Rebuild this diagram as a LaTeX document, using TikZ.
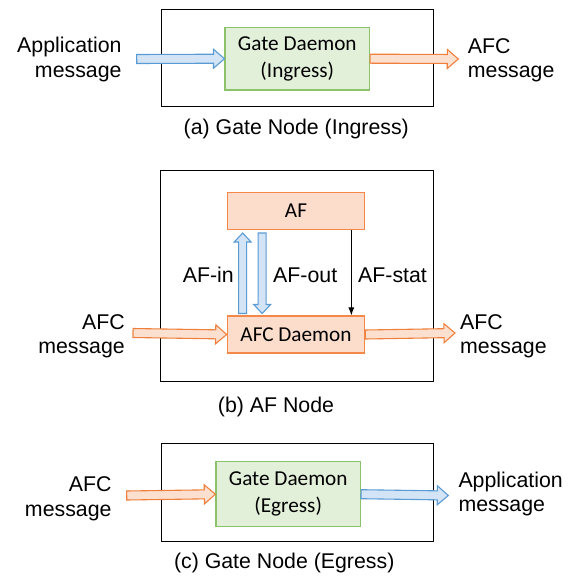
\documentclass[tikz,border=0pt]{standalone}
\usepackage{fontspec}
\setmainfont{Liberation Sans}
\newfontfamily\boxfont{Carlito}
\usepackage{tikz}
\usetikzlibrary{calc,arrows.meta}
\tikzset{>={Latex[length=8bp,width=6bp]}}
\definecolor{gatefill}{HTML}{E2F0D9}
\definecolor{gatedraw}{HTML}{8CC36A}
\definecolor{affill}{HTML}{FCDDCB}
\definecolor{afdraw}{HTML}{F4874A}
\definecolor{bluefill}{HTML}{D2E4F5}
\definecolor{bluedraw}{HTML}{5B9BD5}
\definecolor{orangefill}{HTML}{FBE0CF}
\definecolor{orangedraw}{HTML}{F07F3C}
\tikzstyle{frame}=[draw=black,line width=1.3,inner sep=0]
\tikzstyle{gatebox}=[draw=gatedraw,fill=gatefill,line width=1.2,align=center,
  minimum width=145,minimum height=63,font=\boxfont\fontsize{21.3}{26.7}\selectfont]
\tikzstyle{afbox}=[draw=afdraw,fill=affill,line width=1.2,
  minimum width=138,minimum height=37,font=\boxfont\fontsize{21.3}{26}\selectfont]
\tikzstyle{lbl}=[inner sep=0,font=\fontsize{21.4}{24.5}\selectfont]
\tikzstyle{bluearrow}=[draw=bluedraw,fill=bluefill,line width=1.1]
\tikzstyle{orangearrow}=[draw=orangedraw,fill=orangefill,line width=1.1]
\def\shaftw{4.5bp}
\def\headw{9.5bp}
\def\headl{11bp}
% block arrow from #2 to #3
\newcommand{\fatarrow}[3]{%
  \coordinate (fa) at ($(#3)!\headl!(#2)$);
  \draw[#1] ($(#2)!\shaftw!90:(#3)$) -- ($(fa)!\shaftw!90:(#3)$)
    -- ($(fa)!\headw!90:(#3)$) -- (#3) -- ($(fa)!\headw!-90:(#3)$)
    -- ($(fa)!\shaftw!-90:(#3)$) -- ($(#2)!\shaftw!-90:(#3)$) -- cycle;
}

\begin{document}
\begin{tikzpicture}[x=1bp,y=-1bp]
  \useasboundingbox (0,0) rectangle (570,576);

  % (a) GATE NODE, INGRESS
  \node[frame,minimum width=273,minimum height=98] (nodeA) at (297.3,58) {};
  \node[gatebox] (gateIn) at (297.3,58.7) {Gate Daemon\\(Ingress)};
  \node[lbl,align=right,anchor=east] (appInA) at (121.7,59.5) {Application\\message};
  \node[lbl,align=left,anchor=west] (afcOutA) at (467.7,60.3) {AFC\\message};
  \coordinate (tailA) at (136.7,59);
  \coordinate (tipA) at (458.3,59);
  \fatarrow{bluearrow}{tailA}{gateIn.west}
  \fatarrow{orangearrow}{gateIn.east}{tipA}
  \node[lbl,anchor=base] (capA) at (296.3,135) {(a) Gate Node (Ingress)};

  % (b) AF NODE
  \node[frame,minimum width=274,minimum height=212] (nodeB) at (297,276) {};
  \node[afbox] (af) at (296,211) {AF};
  \node[afbox] (afc) at (296,334.5) {AFC Daemon};
  \def\shaftw{4bp}
  \def\headw{8.5bp}
  \def\headl{9bp}
  \coordinate (inTail) at ($(afc.north west)+(16,-2)$);
  \coordinate (inTip) at ($(af.south west)+(16,3)$);
  \coordinate (outTail) at ($(af.south west)+(35.5,3)$);
  \coordinate (outTip) at ($(afc.north west)+(35.5,-2)$);
  \fatarrow{bluearrow}{inTail}{inTip}
  \fatarrow{bluearrow}{outTail}{outTip}
  \draw[->,line width=1] ($(af.south east)+(-14,0)$) -- ($(afc.north east)+(-14,0)$);
  \node[lbl,anchor=base east] (afIn) at (234,282.7) {AF-in};
  \node[lbl,anchor=base west] (afOut) at (273,282.7) {AF-out};
  \node[lbl,anchor=base west] (afStat) at (358,282.7) {AF-stat};
  \def\shaftw{4.5bp}
  \def\headw{9.5bp}
  \def\headl{11bp}
  \node[lbl,align=right,anchor=east] (afcInB) at (125,336) {AFC\\message};
  \node[lbl,align=left,anchor=west] (afcOutB) at (460,336) {AFC\\message};
  \coordinate (tailB) at (133,333);
  \coordinate (tipB) at (455,333);
  \fatarrow{orangearrow}{tailB}{afc.west}
  \fatarrow{orangearrow}{afc.east}{tipB}
  \node[lbl,anchor=base] (capB) at (276,412) {(b) AF Node};

  % (c) GATE NODE, EGRESS
  \node[frame,minimum width=273,minimum height=98] (nodeC) at (297.3,492.5) {};
  \node[gatebox,minimum height=65] (gateOut) at (288.2,494.2) {Gate Daemon\\(Egress)};
  \node[lbl,align=right,anchor=east] (afcInC) at (111.7,498.8) {AFC\\message};
  \node[lbl,align=left,anchor=west] (appOutC) at (458.3,493.8) {Application\\message};
  \coordinate (tailC) at (126.7,495.5);
  \coordinate (tipC) at (448.3,495.5);
  \fatarrow{orangearrow}{tailC}{gateOut.west}
  \fatarrow{bluearrow}{gateOut.east}{tipC}
  \node[lbl,anchor=base] (capC) at (284.2,568) {(c) Gate Node (Egress)};

\end{tikzpicture}
\end{document}
